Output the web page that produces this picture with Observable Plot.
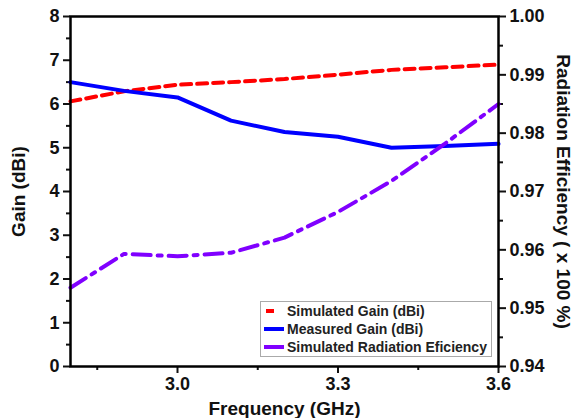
<!DOCTYPE html>
<html><head><meta charset="utf-8">
<script src="https://cdn.jsdelivr.net/npm/d3@7"></script>
<script src="https://cdn.jsdelivr.net/npm/@observablehq/plot@0.6"></script>
<style>
body{margin:0;background:#fff;}
#wrap{position:relative;width:584px;height:418px;font-family:"Liberation Sans",Arial,sans-serif;font-weight:bold;}
#legend{position:absolute;left:260px;top:301px;width:232px;height:56px;box-sizing:border-box;border:1px solid #aaa;background:#fff;font-size:14px;color:#222;}
#legend .row{display:flex;align-items:center;height:18px;padding-left:2px;}
#legend svg{margin-right:2px;}
</style></head><body><div id="wrap"></div>
<script>
// Data
const freq      = [2.8, 2.9, 3.0, 3.1, 3.2, 3.3, 3.4, 3.5, 3.6];
const simGain   = [6.06, 6.29, 6.44, 6.50, 6.57, 6.67, 6.78, 6.84, 6.90];
const measGain  = [6.50, 6.30, 6.15, 5.62, 5.36, 5.25, 5.00, 5.04, 5.09];
const radEff    = [0.9535, 0.9593, 0.9589, 0.9595, 0.9621, 0.9665, 0.9718, 0.9782, 0.9850];
const xTicks    = [3.0, 3.3, 3.6];
const xMinor    = [2.85, 3.15, 3.45];
const gainTicks = [0, 1, 2, 3, 4, 5, 6, 7, 8];
const gainMinor = [0.5, 1.5, 2.5, 3.5, 4.5, 5.5, 6.5, 7.5];
const effTicks  = [0.94, 0.95, 0.96, 0.97, 0.98, 0.99, 1.00];
const effMinor  = [0.945, 0.955, 0.965, 0.975, 0.985, 0.995];
const seriesNames = ["Simulated Gain (dBi)", "Measured Gain (dBi)", "Simulated Radiation Eficiency"];
const colors = ["#ff0000", "#0000ff", "#8000ff"];

const effMin = 0.94, effMax = 1.00, gMin = 0, gMax = 8;
const effToGain = e => (e - effMin) / (effMax - effMin) * (gMax - gMin) + gMin;
const gainToEff = g => (g - gMin) / (gMax - gMin) * (effMax - effMin) + effMin;

const rows = freq.map((f, i) => ({f, sim: simGain[i], meas: measGain[i], eff: radEff[i]}));

const plot = Plot.plot({
  width: 584, height: 418,
  marginLeft: 70, marginRight: 86, marginTop: 16, marginBottom: 52,
  style: {fontFamily: "Liberation Sans, Arial, sans-serif", fontWeight: "bold", fontSize: "18px", color: "#111", background: "#fff"},
  x: {domain: [2.8, 3.6]},
  y: {domain: [gMin, gMax]},
  marks: [
    Plot.axisX({ticks: xTicks, tickSize: 7, tickPadding: 4, tickFormat: d3.format(".1f"), strokeWidth: 2, label: null}),
    Plot.axisX({ticks: xMinor, tickSize: 4, tickFormat: () => "", strokeWidth: 2, label: null}),
    Plot.axisY({ticks: gainTicks, tickSize: 7, tickPadding: 4, tickFormat: d3.format("d"), strokeWidth: 2, label: null}),
    Plot.axisY({ticks: gainMinor, tickSize: 4, tickFormat: () => "", strokeWidth: 2, label: null}),
    Plot.axisY({anchor: "right", ticks: effTicks.map(effToGain), tickSize: 7, tickPadding: 4,
      tickFormat: g => d3.format(".2f")(gainToEff(g)), strokeWidth: 2, label: null}),
    Plot.axisY({anchor: "right", ticks: effMinor.map(effToGain), tickSize: 4, tickFormat: () => "", strokeWidth: 2, label: null}),
    Plot.line(rows, {x: "f", y: "sim", stroke: colors[0], strokeWidth: 4, strokeDasharray: "10,6"}),
    Plot.line(rows, {x: "f", y: "meas", stroke: colors[1], strokeWidth: 4}),
    Plot.line(rows, {x: "f", y: d => effToGain(d.eff), stroke: colors[2], strokeWidth: 4, strokeDasharray: "18,7,4,7"}),
    Plot.frame({stroke: "#000", strokeWidth: 2.5}),
    Plot.text(["Gain (dBi)"], {text: d => d, frameAnchor: "left", dx: -52, rotate: -90, textAnchor: "middle", lineAnchor: "middle", fontSize: 19}),
    Plot.text(["Radiation Efficiency ( x 100 %)"], {text: d => d, frameAnchor: "right", dx: 65, rotate: 90, textAnchor: "middle", lineAnchor: "middle", fontSize: 19}),
    Plot.text(["Frequency (GHz)"], {text: d => d, frameAnchor: "bottom", dy: 42, textAnchor: "middle", lineAnchor: "middle", fontSize: 19})
  ]
});
document.getElementById("wrap").appendChild(plot);

// Legend
const leg = document.createElement("div");
leg.id = "legend";
seriesNames.forEach((name, i) => {
  const row = document.createElement("div");
  row.className = "row";
  const sw = d3.create("svg").attr("width", 22).attr("height", 8);
  sw.append("line").attr("x1", i === 0 ? 3 : 1).attr("x2", i === 0 ? 11 : 21).attr("y1", 4).attr("y2", 4)
    .attr("stroke", colors[i]).attr("stroke-width", 4);
  row.appendChild(sw.node());
  const t = document.createElement("span");
  t.textContent = name;
  row.appendChild(t);
  leg.appendChild(row);
});
document.getElementById("wrap").appendChild(leg);
</script>
</body></html>
